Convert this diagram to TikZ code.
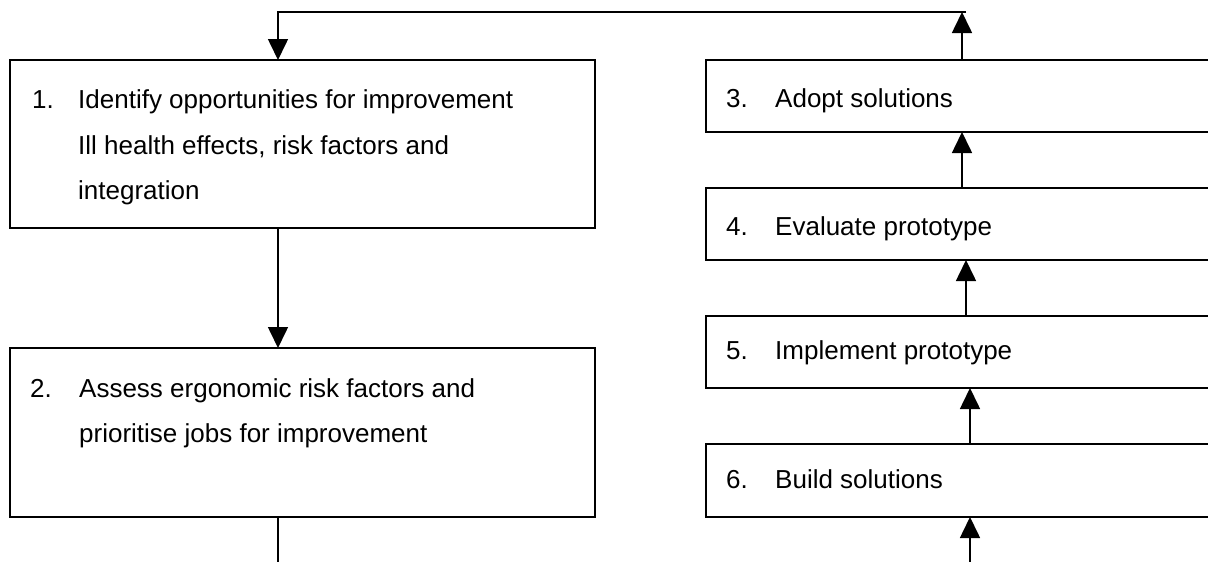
\documentclass[tikz,border=0pt]{standalone}
\usepackage{fontspec}
\setmainfont{Liberation Sans}
\usetikzlibrary{arrows.meta}
\begin{document}
\begin{tikzpicture}[x=1pt,y=-1pt,
  box/.style={draw, line width=1.6pt, rectangle, inner sep=0pt, outer sep=0pt, anchor=north west},
  lbl/.style={anchor=base west, inner sep=0pt, font=\fontsize{26}{30}\selectfont},
  conn/.style={line width=1.6pt},
  arr/.style={conn, -{Triangle[width=20pt,length=21pt]}}]
\useasboundingbox[fill=white] (0,0) rectangle (1208,562);
\clip (0,0) rectangle (1208,562);
% left boxes
\node[box, minimum width=585pt, minimum height=168pt] (b1) at (10,60) {};
\node[box, minimum width=585pt, minimum height=169pt] (b2) at (10,348) {};
% right boxes
\node[box, minimum width=509pt, minimum height=72pt] (b3) at (706,60) {};
\node[box, minimum width=509pt, minimum height=72pt] (b4) at (706,188) {};
\node[box, minimum width=509pt, minimum height=72pt] (b5) at (706,316) {};
\node[box, minimum width=509pt, minimum height=73pt] (b6) at (706,444) {};
% texts
\node[lbl] (t1n) at (32,108) {1.};
\node[lbl] (t1a) at (78,108) {Identify opportunities for improvement};
\node[lbl] (t1b) at (78,154) {Ill health effects, risk factors and};
\node[lbl] (t1c) at (78,199) {integration};
\node[lbl] (t2n) at (30,397) {2.};
\node[lbl] (t2a) at (79,397) {Assess ergonomic risk factors and};
\node[lbl] (t2b) at (79,442) {prioritise jobs for improvement};
\node[lbl] (t3n) at (726,107) {3.};
\node[lbl] (t3a) at (775,107) {Adopt solutions};
\node[lbl] (t4n) at (726,235) {4.};
\node[lbl] (t4a) at (775,235) {Evaluate prototype};
\node[lbl] (t5n) at (726,359) {5.};
\node[lbl] (t5a) at (775,359) {Implement prototype};
\node[lbl] (t6n) at (726,488) {6.};
\node[lbl] (t6a) at (775,488) {Build solutions};
% connectors
\coordinate (ax) at (278,12);
\coordinate (bx) at (962,12);
\coordinate (cx) at (966,0);
\coordinate (dx) at (970,562);
\coordinate (ex) at (278,562);
\draw[arr] (b3.north -| bx) -- (bx);
\draw[arr] ([xshift=4pt]bx) -- (ax) -- (b1.north -| ax);
\draw[arr] (b1.south -| ax) -- (b2.north -| ax);
\draw[conn] (b2.south -| ax) -- (ex);
\draw[arr] (b4.north -| bx) -- (b3.south -| bx);
\draw[arr] (b5.north -| cx) -- (b4.south -| cx);
\draw[arr] (b6.north -| dx) -- (b5.south -| dx);
\draw[arr] (dx) -- (b6.south -| dx);
\end{tikzpicture}
\end{document}
